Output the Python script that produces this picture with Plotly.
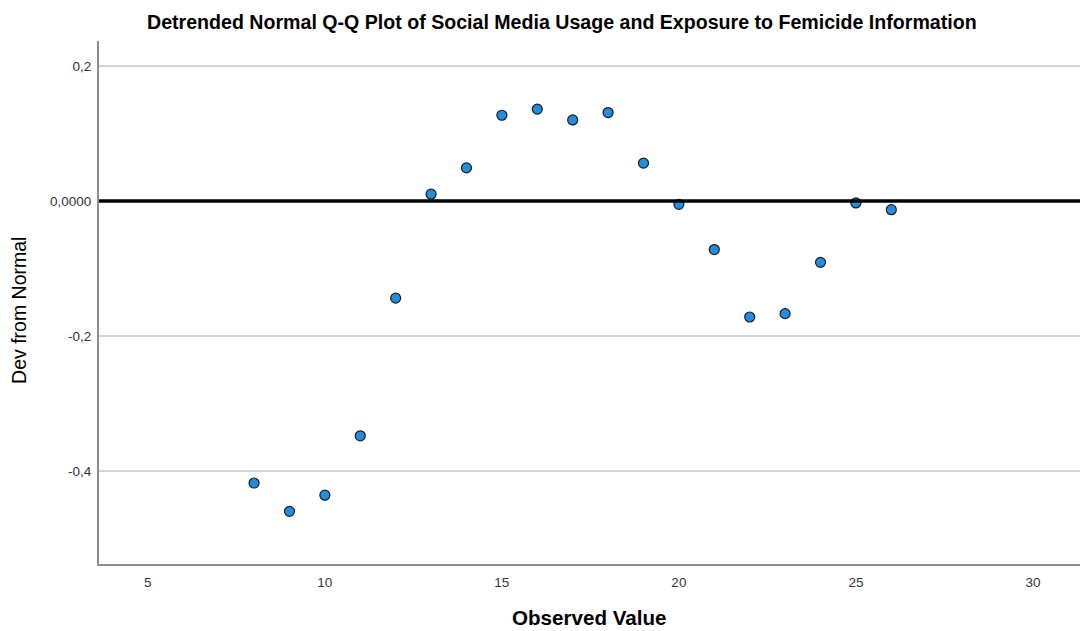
import plotly.graph_objects as go

# Observed scores and their deviation from the normal expectation
observed = [8, 9, 10, 11, 12, 13, 14, 15, 16, 17, 18, 19, 20, 21, 22, 23, 24, 25, 26]
dev_from_normal = [-0.418, -0.460, -0.436, -0.348, -0.144, 0.010, 0.049, 0.127, 0.136,
                   0.120, 0.131, 0.056, -0.005, -0.072, -0.172, -0.167, -0.091, -0.003, -0.013]

# Reference line: zero deviation
reference_dev = 0.0

x_tickvals = [5, 10, 15, 20, 25, 30]
y_tickvals = [0.2, 0.0, -0.2, -0.4]
y_ticktext = ["0,2", "0,0000", "-0,2", "-0,4"]

title_text = "Detrended Normal Q-Q Plot of Social Media Usage and Exposure to Femicide Information"
x_title = "Observed Value"
y_title = "Dev from Normal"

FONT = "Liberation Sans, Arial, sans-serif"

fig = go.Figure()

fig.add_trace(go.Scatter(
    x=observed,
    y=dev_from_normal,
    mode="markers",
    marker=dict(size=10, color="#1f8ee0", line=dict(color="#1a1a1a", width=1.2)),
    hoverinfo="x+y",
    showlegend=False,
))

fig.add_shape(
    type="line", xref="paper", yref="y",
    x0=0, x1=1, y0=reference_dev, y1=reference_dev,
    line=dict(color="#000000", width=3.5),
    layer="above",
)

fig.update_layout(
    width=1080, height=631,
    margin=dict(l=99, r=0, t=41, b=67),
    paper_bgcolor="white", plot_bgcolor="white",
    font=dict(family=FONT, color="#333333", size=13.5),
    xaxis=dict(
        range=[3.62, 31.33],
        tickvals=x_tickvals,
        showgrid=False, zeroline=False,
        showline=True, linecolor="#8c8c8c", linewidth=2,
        ticks="", ticklabelstandoff=5,
        tickfont=dict(size=13.5, color="#333333"),
    ),
    yaxis=dict(
        range=[-0.538, 0.237],
        tickvals=y_tickvals, ticktext=y_ticktext,
        showgrid=True, gridcolor="#d4d4d4", gridwidth=1.5,
        zeroline=False,
        showline=True, linecolor="#8c8c8c", linewidth=2,
        ticks="", ticklabelstandoff=3,
        tickfont=dict(size=13.5, color="#333333"),
    ),
    annotations=[
        dict(text="<b>" + title_text + "</b>", xref="paper", yref="paper",
             x=0.472, y=1.036, xanchor="center", yanchor="middle",
             showarrow=False, font=dict(size=19.6, color="#000000", family=FONT)),
        dict(text="<b>" + x_title + "</b>", xref="paper", yref="paper",
             x=0.5, y=-0.103, xanchor="center", yanchor="middle",
             showarrow=False, font=dict(size=20.6, color="#000000", family=FONT)),
        dict(text=y_title, xref="paper", yref="paper", textangle=-90,
             x=-0.0815, y=0.484, xanchor="center", yanchor="middle",
             showarrow=False, font=dict(size=19.5, color="#000000", family=FONT)),
    ],
)

fig.write_html("out.html")
